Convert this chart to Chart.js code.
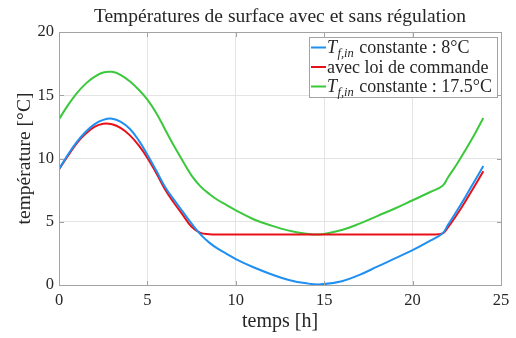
<!DOCTYPE html>
<html><head><meta charset="utf-8">
<script src="https://cdn.jsdelivr.net/npm/chart.js@4.4.0/dist/chart.umd.min.js"></script>
<style>html,body{margin:0;padding:0;background:#fff;overflow:hidden}canvas{display:block}</style>
</head><body>
<canvas id="c" width="516" height="338" style="width:516px;height:338px"></canvas>
<script>
// ---- data ----
const hours = [0,0.5,1,1.5,2,2.5,3,3.5,4,4.5,5,5.5,6,6.5,7,7.5,8,8.5,9,9.5,10,11,12,13,14,14.8,16,17,18,19,20,21,21.7,22,22.5,23,23.5,24];
const tempTf8 = [9.15,10.3,11.3,12.1,12.7,13.05,13.15,12.9,12.35,11.45,10.3,9.05,7.75,6.75,5.8,4.85,4.0,3.35,2.85,2.45,2.05,1.4,0.85,0.4,0.13,0.05,0.3,0.8,1.45,2.1,2.75,3.5,4.1,4.75,5.85,7.0,8.2,9.4];
const tempLoi = [9.15,10.2,11.2,11.95,12.5,12.75,12.7,12.4,11.85,11.05,10.05,8.85,7.55,6.5,5.55,4.6,4.12,4.02,4.0,4.0,4.0,4.0,4.0,4.0,4.0,4.0,4.0,4.0,4.0,4.0,4.0,4.0,4.08,4.55,5.55,6.65,7.8,9.0];
const tempTf175 = [13.1,14.2,15.15,15.9,16.45,16.8,16.85,16.6,16.1,15.45,14.65,13.6,12.3,11.0,9.8,8.65,7.8,7.2,6.7,6.3,5.9,5.2,4.7,4.3,4.05,4.0,4.35,4.85,5.45,6.05,6.7,7.35,7.85,8.5,9.55,10.7,11.9,13.2];
const seriesLabels = ['T_{f,in} constante : 8°C', 'avec loi de commande', 'T_{f,in} constante : 17.5°C'];
const seriesColors = ['#1f8ff2', '#e8111a', '#3cc83c'];
const xTicks = [0,5,10,15,20,25];
const yTicks = [0,5,10,15,20];
const titleText = 'Températures de surface avec et sans régulation';
const xTitle = 'temps [h]';
const yTitle = 'température [°C]';

const SERIF = '"Liberation Serif", "DejaVu Serif", serif';
const TXT = '#262626';
const AXC = '#a3a3a3';

function pts(ys){ return hours.map((h,i)=>({x:h,y:ys[i]})); }

const framePlugin = {
  id:'frame',
  afterDatasetsDraw(chart){
    const ctx = chart.ctx, a = chart.chartArea;
    const xs = chart.scales.x, ys = chart.scales.y;
    ctx.save();
    ctx.strokeStyle = AXC; ctx.lineWidth = 1;
    const L = Math.round(a.left)+0.5, R = Math.round(a.right)+0.5, T = Math.round(a.top)+0.5, B = Math.round(a.bottom)+0.5;
    ctx.beginPath();
    ctx.rect(L, T, R-L, B-T);
    const tl = 4.5;
    xTicks.forEach(v=>{
      const p = Math.round(xs.getPixelForValue(v))+0.5;
      ctx.moveTo(p,B); ctx.lineTo(p,B-tl);
      ctx.moveTo(p,T); ctx.lineTo(p,T+tl);
    });
    yTicks.forEach(v=>{
      const p = Math.round(ys.getPixelForValue(v))+0.5;
      ctx.moveTo(L,p); ctx.lineTo(L+tl,p);
      ctx.moveTo(R,p); ctx.lineTo(R-tl,p);
    });
    ctx.stroke();
    ctx.restore();
  }
};

const legendPlugin = {
  id:'mlLegend',
  afterDraw(chart){
    const ctx = chart.ctx, a = chart.chartArea;
    const w = 188, h = 60;
    const right = Math.round(a.right) - 4, top = Math.round(a.top) + 5;
    const left = right - w;
    ctx.save();
    ctx.fillStyle = '#fff';
    ctx.fillRect(left, top, w, h);
    ctx.strokeStyle = AXC; ctx.lineWidth = 1;
    ctx.strokeRect(left+0.5, top+0.5, w, h);
    chart.data.datasets.forEach((ds,i)=>{
      const cy = top + 10.5 + i*19.5;
      ctx.strokeStyle = ds.borderColor; ctx.lineWidth = 2;
      ctx.beginPath(); ctx.moveTo(left+2, cy); ctx.lineTo(left+17, cy); ctx.stroke();
      let x = left + 18;
      const base = cy + 5.5;
      ctx.fillStyle = TXT; ctx.textBaseline = 'alphabetic'; ctx.textAlign = 'left';
      const m = /^(\w)_\{([^}]*)\}(.*)$/.exec(ds.label);
      if (m){
        ctx.font = 'italic 18px ' + SERIF;
        ctx.fillText(m[1], x, base); x += ctx.measureText(m[1]).width + 0.5;
        ctx.font = 'italic 12.5px ' + SERIF;
        ctx.fillText(m[2], x, base + 3.5); x += ctx.measureText(m[2]).width + 1;
        ctx.font = '18px ' + SERIF;
        ctx.fillText(m[3], x, base);
      } else {
        ctx.font = '18px ' + SERIF;
        ctx.fillText(ds.label, x, base);
      }
    });
    ctx.restore();
  }
};

new Chart(document.getElementById('c'), {
  type:'line',
  data:{
    datasets:[
      {label:seriesLabels[0], data:pts(tempTf8), borderColor:seriesColors[0]},
      {label:seriesLabels[1], data:pts(tempLoi), borderColor:seriesColors[1]},
      {label:seriesLabels[2], data:pts(tempTf175), borderColor:seriesColors[2]}
    ]
  },
  options:{
    responsive:false, animation:false, devicePixelRatio:1,
    layout:{padding:{top:0,right:15,bottom:0,left:0}},
    elements:{
      point:{radius:0},
      line:{borderWidth:2, tension:0.4, fill:false}
    },
    plugins:{
      legend:{display:false},
      tooltip:{enabled:false},
      title:{display:true, fullSize:false, text:titleText, color:TXT,
        font:{family:SERIF, size:19.5, weight:'normal', lineHeight:1.2},
        padding:{top:5, bottom:3.6}}
    },
    scales:{
      x:{type:'linear', min:0, max:25,
        afterBuildTicks:s=>{ s.ticks = xTicks.map(v=>({value:v})); },
        afterFit:s=>{ s.height = 53; },
        grid:{color:'#e4e4e4', drawTicks:false},
        border:{display:false},
        ticks:{color:TXT, padding:6, maxRotation:0, font:{family:SERIF, size:16.5}},
        title:{display:true, text:xTitle, color:TXT, font:{family:SERIF, size:20, lineHeight:1.2}, padding:{top:0,bottom:4}}
      },
      y:{type:'linear', min:0, max:20,
        afterBuildTicks:s=>{ s.ticks = yTicks.map(v=>({value:v})); },
        afterFit:s=>{ s.width = 59; },
        grid:{color:'#e4e4e4', drawTicks:false},
        border:{display:false},
        ticks:{color:TXT, padding:5, font:{family:SERIF, size:16.5}},
        title:{display:true, text:yTitle, color:TXT, font:{family:SERIF, size:19.5, lineHeight:1.2}, padding:{top:13,bottom:0}}
      }
    }
  },
  plugins:[framePlugin, legendPlugin]
});
</script>
</body></html>
